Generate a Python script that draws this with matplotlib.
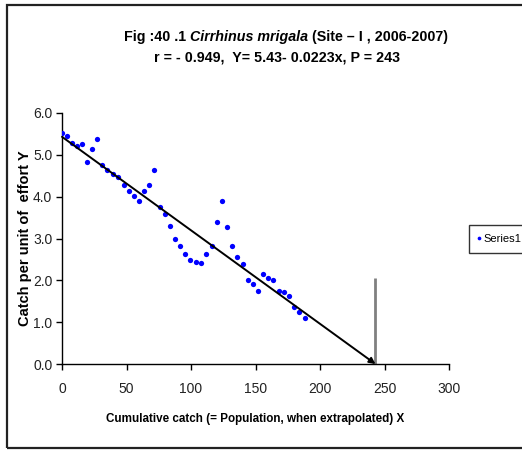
import matplotlib
matplotlib.use("Agg")
import matplotlib.pyplot as plt
from matplotlib.patches import Rectangle

FONT = ["Liberation Sans Narrow", "Liberation Sans", "DejaVu Sans"]
plt.rcParams["font.family"] = FONT

# cumulative catch (X) and catch per unit of effort (Y)
catch_x = [0, 3.6, 7.5, 11.6, 15.5, 19.4, 23.5, 27.4, 31.2, 35.1, 39.8, 43.6,
           47.8, 51.9, 55.8, 59.7, 63.8, 67.7, 71.6, 75.7, 79.6, 83.7, 87.6,
           91.5, 95.6, 99.5, 103.6, 107.5, 111.6, 116.0, 120.2, 124.0, 127.9,
           132.0, 135.9, 140.0, 143.9, 148.0, 151.9, 155.8, 159.9, 163.8,
           167.9, 171.8, 175.7, 179.6, 183.5, 188.1]
cpue_y = [5.52, 5.45, 5.29, 5.20, 5.26, 4.82, 5.13, 5.38, 4.76, 4.64, 4.54,
          4.48, 4.27, 4.14, 4.02, 3.89, 4.14, 4.27, 4.64, 3.76, 3.58, 3.30,
          2.99, 2.81, 2.62, 2.49, 2.43, 2.41, 2.62, 2.81, 3.40, 3.90, 3.27,
          2.81, 2.56, 2.38, 2.00, 1.91, 1.75, 2.15, 2.06, 2.00, 1.75, 1.72,
          1.63, 1.37, 1.25, 1.09]

# regression Y = a + b x, population estimate P
a, b = 5.43, -0.0223
P = 243
marker_top = 2.05

fig = plt.figure(figsize=(5.22, 4.5), dpi=100)
ax = fig.add_axes([0.1188, 0.191, 0.7414, 0.558])

ax.plot(catch_x, cpue_y, "o", color="#0000ff", markersize=3.8,
        markeredgewidth=0, label="Series1", zorder=3)

# fitted line, drawn as an arrow down to the x-intercept
ax.annotate("", xy=(P, 0), xytext=(0, a),
            arrowprops=dict(arrowstyle="-|>", color="black", lw=1.4,
                            mutation_scale=9, shrinkA=0, shrinkB=0))
ax.plot([P, P], [0, marker_top], color="#808080", lw=2, solid_capstyle="butt")

ax.set_xlim(0, 300)
ax.set_ylim(0, 6)
ax.set_xticks(range(0, 301, 50))
ax.set_yticks([0, 1, 2, 3, 4, 5, 6])
ax.set_yticklabels([f"{v:.1f}" for v in range(7)])
ax.tick_params(labelsize=10, direction="out", length=4, width=1,
               labelcolor="#222222")
ax.tick_params(axis="x", pad=9)
ax.tick_params(axis="y", pad=3)
for s in ("top", "right"):
    ax.spines[s].set_visible(False)
for s in ("left", "bottom"):
    ax.spines[s].set_linewidth(1)

ax.set_xlabel("Cumulative catch (= Population, when extrapolated) X",
              fontsize=8.4, fontweight="bold", labelpad=12)
ax.set_ylabel("Catch per unit of  effort Y", fontsize=10.5,
              fontweight="bold", labelpad=1)

leg = ax.legend(loc="upper left", bbox_to_anchor=(0.8985, 0.5),
                bbox_transform=fig.transFigure, frameon=True, fancybox=False,
                edgecolor="black", fontsize=8, handlelength=0.2,
                handletextpad=0.3, borderpad=0.8, borderaxespad=0,
                markerscale=0.7)
leg.get_frame().set_linewidth(1)

# title line 1 with italic species name, laid out piece by piece
parts = [("Fig :40 .1 ", "normal"), ("Cirrhinus mrigala", "italic"),
         (" (Site \u2013 I , 2006-2007)", "normal")]
fig.canvas.draw()
r = fig.canvas.get_renderer()
widths = []
for txt, st in parts:
    t = fig.text(0, 0, txt, fontsize=10.3, fontweight="bold", style=st)
    widths.append(t.get_window_extent(r).width)
    t.remove()
x0 = 286 - sum(widths) / 2
for (txt, st), w in zip(parts, widths):
    fig.text(x0 / 522, 1 - 37 / 450, txt, fontsize=10.3, fontweight="bold",
             style=st, va="center", ha="left")
    x0 += w
fig.text(277 / 522, 1 - 57 / 450, "r = - 0.949,  Y= 5.43- 0.0223x, P = 243",
         fontsize=10.3, fontweight="bold", ha="center", va="center")

# chart area border
fig.patches.append(Rectangle((7 / 522, 1 - 448 / 450), 530 / 522, 443 / 450,
                             transform=fig.transFigure, fill=False,
                             edgecolor="#222222", lw=1.6))

fig.savefig("out.png", dpi=100)
